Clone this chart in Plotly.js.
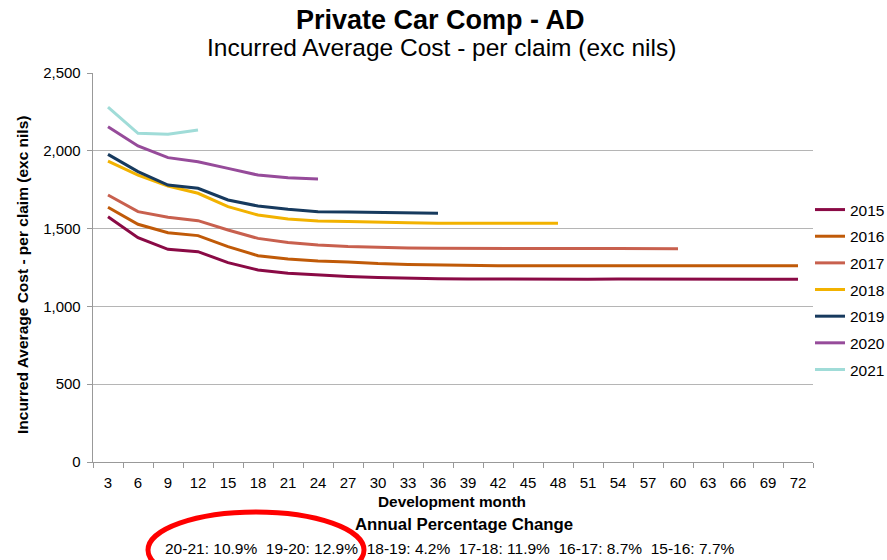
<!DOCTYPE html>
<html>
<head>
<meta charset="utf-8">
<script src="https://cdn.plot.ly/plotly-3.0.1.min.js"></script>
<style>html,body{margin:0;padding:0;background:#fff;}#chart{width:887px;height:560px;}</style>
</head>
<body>
<div id="chart"></div>
<script>
const months = [3,6,9,12,15,18,21,24,27,30,33,36,39,42,45,48,51,54,57,60,63,66,69,72];
const years = ["2015","2016","2017","2018","2019","2020","2021"];
const y2015 = [1576,1442,1367,1352,1281,1234,1213,1202,1192,1185,1180,1178,1176,1175,1175,1175,1175,1176,1176,1175,1176,1175,1175,1174];
const y2016 = [1637,1528,1474,1455,1384,1326,1305,1292,1285,1275,1270,1266,1263,1262,1262,1262,1262,1263,1263,1263,1262,1263,1262,1262];
const y2017 = [1716,1609,1573,1551,1491,1437,1410,1395,1385,1378,1375,1373,1372,1372,1371,1371,1372,1372,1372,1371];
const y2018 = [1934,1844,1774,1727,1641,1587,1562,1549,1545,1540,1537,1535,1535,1535,1535,1535];
const y2019 = [1977,1866,1780,1759,1684,1645,1624,1609,1606,1604,1600,1599];
const y2020 = [2155,2031,1956,1930,1887,1844,1827,1819];
const y2021 = [2280,2112,2106,2134];
const seriesValues = [y2015,y2016,y2017,y2018,y2019,y2020,y2021];
const colors = ["#8a0a45","#c05a08","#c8604e","#f2b200","#173a5e","#964b9a","#a0dcd8"];
const changeLabels = ["20-21: 10.9%","19-20: 12.9%","18-19: 4.2%","17-18: 11.9%","16-17: 8.7%","15-16: 7.7%"];

const traces = years.map((yr,i)=>({
  x: months.slice(0, seriesValues[i].length),
  y: seriesValues[i],
  type: 'scatter', mode: 'lines', name: yr, legendgroup: yr,
  line: {color: colors[i], width: 3}
}));

const F = "Liberation Sans, Arial, sans-serif";
const L = 93, T = 73, W = 720, H = 389;
const px = v => (v - L) / W;
const py = v => (T + H - v) / H;
const layout = {
  width: 887, height: 560,
  margin: {l: L, r: 887 - L - W, t: T, b: 560 - T - H, autoexpand: false},
  paper_bgcolor: '#fff', plot_bgcolor: '#fff',
  font: {family: F, color: '#000', size: 15},
  showlegend: true,
  legend: {x: px(810), xanchor: 'left', y: py(193), yanchor: 'top', traceorder: 'grouped', tracegroupgap: 3.5,
           font: {family: F, size: 15.5}, bgcolor: 'rgba(0,0,0,0)'},
  xaxis: {range: [1.5, 73.5], tickmode: 'array', tickvals: months, ticktext: months.map(String),
          showgrid: false, zeroline: false, showline: true, linecolor: '#999', linewidth: 1.3,
          ticks: '', tickfont: {size: 15, family: F}, ticklabelstandoff: 7,
          minor: {tick0: 1.5, dtick: 3, ticks: 'outside', ticklen: 5, tickcolor: '#999', showgrid: false}},
  yaxis: {range: [0, 2500], dtick: 500, tickformat: ',d', showgrid: true, gridcolor: '#b5b5b5', gridwidth: 1.3,
          zeroline: false, showline: true, linecolor: '#999', linewidth: 1.3, ticklabelstandoff: 3,
          ticks: 'outside', ticklen: 5, tickcolor: '#999', tickfont: {size: 15, family: F}},
  annotations: [
    {text: '<b>Private Car Comp - AD</b>', xref: 'paper', yref: 'paper', x: px(440), y: py(20), xanchor: 'center', yanchor: 'middle', showarrow: false, font: {size: 27, family: F}},
    {text: 'Incurred Average Cost - per claim (exc nils)', xref: 'paper', yref: 'paper', x: px(441), y: py(47), xanchor: 'center', yanchor: 'middle', showarrow: false, font: {size: 24.5, family: F}},
    {text: '<b>Incurred Average Cost - per claim (exc nils)</b>', xref: 'paper', yref: 'paper', x: px(22), y: py(275), xanchor: 'center', yanchor: 'middle', textangle: -90, showarrow: false, font: {size: 15.5, family: F}},
    {text: '<b>Development month</b>', xref: 'paper', yref: 'paper', x: px(452), y: py(502), xanchor: 'center', yanchor: 'middle', showarrow: false, font: {size: 15.4, family: F}},
    {text: '<b>Annual Percentage Change</b>', xref: 'paper', yref: 'paper', x: px(464), y: py(524), xanchor: 'center', yanchor: 'middle', showarrow: false, font: {size: 16.8, family: F}},
    {text: changeLabels.join('\u00a0\u00a0'), xref: 'paper', yref: 'paper', x: px(450), y: py(548), xanchor: 'center', yanchor: 'middle', showarrow: false, font: {size: 15.5, family: F}}
  ],
  shapes: [
    {type: 'circle', xref: 'paper', yref: 'paper', x0: px(148), x1: px(364), y0: py(512), y1: py(588),
     line: {color: '#ff0000', width: 5}}
  ]
};
Plotly.newPlot('chart', traces, layout, {displayModeBar: false, staticPlot: true});
</script>
</body>
</html>
